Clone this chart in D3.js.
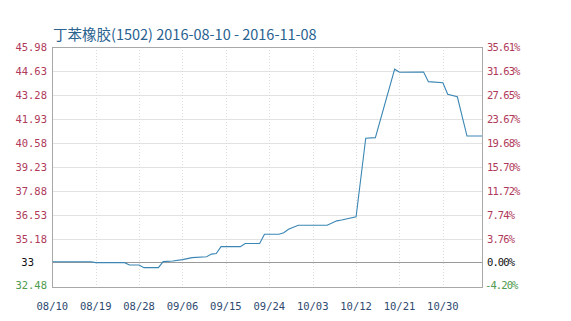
<!DOCTYPE html>
<html><head><meta charset="utf-8">
<script src="https://cdn.jsdelivr.net/npm/d3@7"></script>
<style>body{margin:0;background:#fff}svg{display:block}</style>
</head><body>
<svg id="c" width="571" height="321"></svg>
<script>
const title = "丁苯橡胶(1502) 2016-08-10 - 2016-11-08";
const dates = ["2016-08-10","2016-08-18","2016-08-19","2016-08-25","2016-08-26","2016-08-28","2016-08-29","2016-09-01","2016-09-02","2016-09-04","2016-09-06","2016-09-08","2016-09-11","2016-09-12","2016-09-13","2016-09-14","2016-09-18","2016-09-19","2016-09-22","2016-09-23","2016-09-26","2016-09-27","2016-09-28","2016-09-30","2016-10-06","2016-10-08","2016-10-09","2016-10-12","2016-10-14","2016-10-16","2016-10-20","2016-10-21","2016-10-26","2016-10-27","2016-10-30","2016-10-31","2016-11-02","2016-11-04","2016-11-08"];
const prices = [33.90,33.90,33.85,33.85,33.72,33.72,33.57,33.57,33.91,33.94,34.02,34.13,34.18,34.33,34.36,34.75,34.75,34.93,34.93,35.45,35.45,35.53,35.73,35.95,35.95,36.20,36.25,36.43,40.85,40.88,44.73,44.56,44.57,44.03,43.97,43.32,43.18,40.97,40.97];
const yTicks = [45.98,44.63,43.28,41.93,40.58,39.23,37.88,36.53,35.18];
const yMin = 32.48, yMax = 45.98, baseValue = 33.906, baseLabel = "33";
const pctTicks = ["35.61%","31.63%","27.65%","23.67%","19.68%","15.70%","11.72%","7.74%","3.76%"];
const basePct = "0.00%", minPct = "-4.20%";
const xTickLabels = ["08/10","08/19","08/28","09/06","09/15","09/24","10/03","10/12","10/21","10/30"];

const L = 52.3, R = 482, T = 47, B = 287;
const parse = d3.timeParse("%Y-%m-%d");
const svg = d3.select("#c");
const x = d3.scaleTime().domain([parse("2016-08-10"), parse("2016-11-08")]).range([L, L + 90*4.822]);
const y = d3.scaleLinear().domain([yMin, yMax]).range([B, T]);
const mono = "'DejaVu Sans Mono', 'Liberation Mono', monospace";

svg.append("text").attr("x", 53).attr("y", 40).attr("font-family","'Noto Sans CJK SC', sans-serif")
  .attr("font-size", 14.5).attr("fill", "#2a6290").text(title);

svg.append("clipPath").attr("id","clip").append("rect").attr("x",L).attr("y",T).attr("width",R-L).attr("height",B-T);

// horizontal grid
svg.selectAll(".hg").data(yTicks.slice(1)).enter().append("line")
  .attr("x1", L).attr("x2", R).attr("y1", d => Math.round(y(d))+0.5).attr("y2", d => Math.round(y(d))+0.5)
  .attr("stroke", "#e2e2e2").attr("stroke-width", 1);
// vertical grid
const xTickDates = xTickLabels.map(s => parse("2016-" + s.replace("/","-")));
svg.selectAll(".vg").data(xTickDates.slice(1)).enter().append("line")
  .attr("x1", d => Math.round(x(d))+0.5).attr("x2", d => Math.round(x(d))+0.5).attr("y1", T).attr("y2", B)
  .attr("stroke", "#dcdcdc").attr("stroke-dasharray", "1,2");
// base line
svg.append("line").attr("x1", L).attr("x2", R).attr("y1", Math.round(y(baseValue))+0.5).attr("y2", Math.round(y(baseValue))+0.5)
  .attr("stroke", "#9a9a9a");
// border
svg.append("rect").attr("x", Math.round(L)+0.5).attr("y", T+0.5).attr("width", R-Math.round(L)).attr("height", B-T)
  .attr("fill","none").attr("stroke","#a8a8a8");

// line
const data = dates.map((d,i) => ({d: parse(d), v: prices[i]}));
svg.append("path").datum(data).attr("clip-path","url(#clip)")
  .attr("d", d3.line().x(p => x(p.d)).y(p => y(p.v)))
  .attr("fill","none").attr("stroke","#3a86b4").attr("stroke-width",1.1);

// left labels
const lab = svg.append("g").attr("font-family", mono).attr("font-size", 10.5);
lab.selectAll(".yl").data(yTicks).enter().append("text")
  .attr("x", 47).attr("y", d => y(d)+4).attr("text-anchor","end").attr("fill","#b03a5a").text(d => d.toFixed(2));
lab.append("text").attr("x", 47).attr("y", y(yMin)+2).attr("text-anchor","end").attr("fill","#4e9a4e").text(yMin.toFixed(2));
lab.append("text").attr("x", 34).attr("y", y(baseValue)+4).attr("text-anchor","end").attr("fill","#111").text(baseLabel);
// right labels
const rl = svg.append("g").attr("font-family", mono).attr("font-size", 10.5).attr("letter-spacing", -0.9);
rl.selectAll(".pl").data(pctTicks).enter().append("text")
  .attr("x", 487).attr("y", (d,i) => y(yTicks[i])+4).attr("fill","#b03a5a").text(d => d);
rl.append("text").attr("x", 487).attr("y", y(baseValue)+4).attr("fill","#111").text(basePct);
rl.append("text").attr("x", 485).attr("y", y(yMin)+2).attr("fill","#4e9a4e").text(minPct);
// x labels
lab.selectAll(".xl").data(xTickLabels).enter().append("text")
  .attr("x", (d,i) => x(xTickDates[i])).attr("y", 310).attr("text-anchor","middle").attr("fill","#2e4a6e").text(d => d);
</script>
</body></html>
